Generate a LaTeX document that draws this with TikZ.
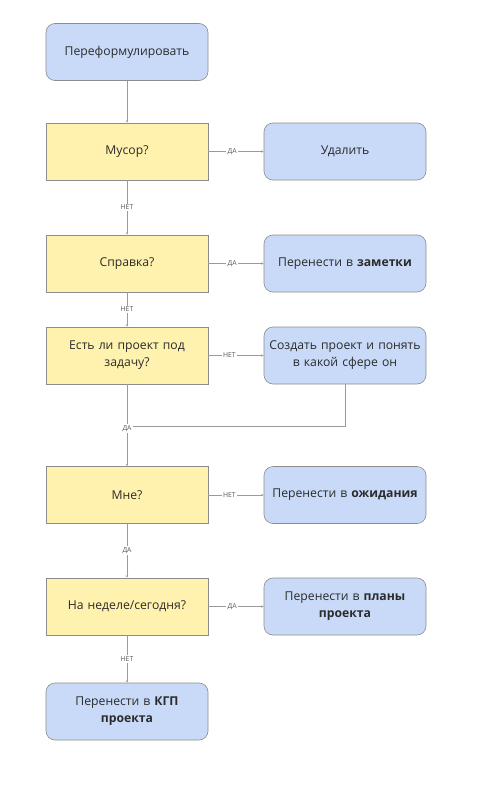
\documentclass[tikz,border=0pt]{standalone}
\usepackage{fontspec}
\setmainfont{Open Sans}
\usetikzlibrary{arrows.meta}
\definecolor{bluefill}{HTML}{C9DAF8}
\definecolor{yellowfill}{HTML}{FFF2AE}
\definecolor{boxline}{HTML}{8C8C8C}
\definecolor{conn}{HTML}{9A9A9A}
\definecolor{txt}{HTML}{2B2B2B}
\definecolor{lbl}{HTML}{555555}
\begin{document}
\begin{tikzpicture}[x=1pt,y=-1pt,
  base/.style={draw=boxline, line width=0.6pt, minimum width=162pt, minimum height=57pt,
    text width=158pt, align=center, font=\fontsize{12.2}{17}\selectfont, text=txt, inner sep=0pt},
  action/.style={base, fill=bluefill, rounded corners=9pt},
  question/.style={base, fill=yellowfill},
  conn/.style={draw=conn, line width=0.6pt, -{Stealth[length=2.5pt,width=2.5pt]}},
  plain/.style={draw=conn, line width=0.6pt},
  lab/.style={fill=white, inner sep=1.5pt, font=\fontsize{6.8}{8}\selectfont, text=lbl}
]
\useasboundingbox[fill=white] (0,0) rectangle (499,787);

\node[action] (ref) at (127,52) {Переформулировать};
\node[question] (musor) at (127,151.5) {Мусор?};
\node[action] (del) at (345,151.5) {Удалить};
\node[question] (sprav) at (127,263.5) {Справка?};
\node[action] (notes) at (345,263.5) {Перенести в \textbf{заметки}};
\node[question] (proj) at (127,355.5) {Есть ли проект под\\задачу?};
\node[action] (create) at (345,355.5) {Создать проект и понять\\в какой сфере он};
\node[question] (me) at (127,495) {Мне?};
\node[action] (wait) at (345,495) {Перенести в \textbf{ожидания}};
\node[question] (week) at (127,606.5) {На неделе/сегодня?};
\node[action] (plans) at (345,606.5) {Перенести в \textbf{планы}\\\textbf{проекта}};
\node[action] (kgp) at (127,711.5) {Перенести в \textbf{КГП}\\\textbf{проекта}};

\coordinate (j1) at (345,426);
\coordinate (j2) at (127,426);

\draw[conn] (ref) -- (musor);
\draw[conn] (musor) -- node[lab, pos=0.43] {ДА} (del);
\draw[conn] (musor) -- node[lab, pos=0.5] {НЕТ} (sprav);
\draw[conn] (sprav) -- node[lab, pos=0.43] {ДА} (notes);
\draw[conn] (sprav) -- node[lab, pos=0.5] {НЕТ} (proj);
\draw[conn] (proj) -- node[lab, pos=0.38] {НЕТ} (create);
\draw[plain] (create.south) -- (j1) -- (j2);
\draw[conn] (proj) -- node[lab, pos=0.54] {ДА} (me);
\draw[conn] (me) -- node[lab, pos=0.38] {НЕТ} (wait);
\draw[conn] (me) -- node[lab, pos=0.5] {ДА} (week);
\draw[conn] (week) -- node[lab, pos=0.43] {ДА} (plans);
\draw[conn] (week) -- node[lab, pos=0.5] {НЕТ} (kgp);
\end{tikzpicture}
\end{document}
